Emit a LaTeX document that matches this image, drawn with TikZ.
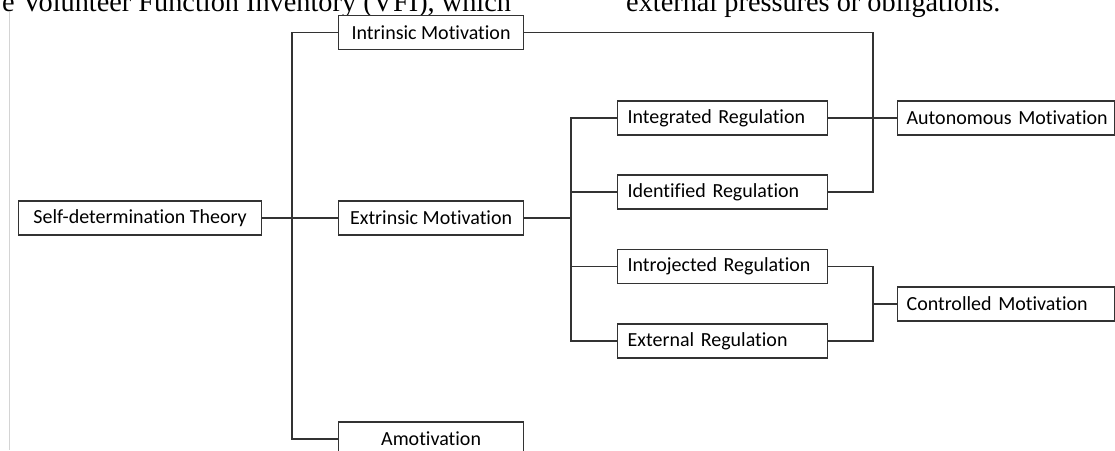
\documentclass[tikz,border=0pt]{standalone}
\usepackage{fontspec}
\setmainfont{Carlito}[Ligatures=NoCommon]
\newfontfamily\docfont{Liberation Serif}
\definecolor{linegray}{HTML}{333333}
\definecolor{margingray}{HTML}{D4D4D4}
\tikzset{
	box/.style = {
		draw=linegray,
		fill=white,
		line width=1.2pt,
		inner sep=0pt,
		minimum height=34pt,
		anchor=west,
		font=\fontsize{20}{24}\selectfont,
		text=black
	},
	box_c/.style = {
		box,
		align=center,
		minimum width=#1
	},
	box_l/.style = {
		box,
		align=left,
		inner xsep=10pt,
		text width=#1
	},
	link/.style = {
		draw=linegray,
		line width=1.2pt
	},
	page_text/.style = {
		anchor=base west,
		inner sep=0pt,
		font=\docfont\fontsize{28.3}{32}\selectfont
	},
}

\begin{document}
\begin{tikzpicture}[x=1pt,y=-1pt]
\clip (0,0) rectangle (1115,450);
\node [page_text] (txt_left) at (2,11) {e Volunteer Function Inventory (VFI), which};
\node [page_text] (txt_right) at (626,11) {external pressures or obligations.};
\draw [margingray, line width=1pt] (9.5,12) -- (9.5,450);
\node [box_c=243pt] (sdt) at (18,218) {Self-determination Theory};
\node [box_c=185pt] (intr) at (338,32.5) {Intrinsic Motivation};
\node [box_c=185pt] (extr) at (338,218) {Extrinsic Motivation};
\node [box_c=185pt] (amot) at (338,439) {Amotivation};
\node [box_l=190pt] (integ) at (617,118) {Integrated Regulation};
\node [box_l=190pt] (ident) at (617,192) {Identified Regulation};
\node [box_l=190pt] (intro) at (617,266.5) {Introjected Regulation};
\node [box_l=190pt] (exter) at (617,341) {External Regulation};
\node [box_l=199pt, inner xsep=9pt] (auton) at (897,118) {\mbox{Autonomous Motivation}};
\node [box_l=199pt, inner xsep=9pt] (contr) at (897,304) {\mbox{Controlled Motivation}};
\coordinate (fork_sdt) at (292,218);
\coordinate (fork_ext) at (571,218);
\coordinate (join_aut) at (873,118);
\coordinate (join_ctl) at (873,304);
\draw [link] (sdt.east) -- (extr.west);
\draw [link] (intr.west) -| (fork_sdt) |- (amot.west);
\draw [link] (extr.east) -- (fork_ext);
\draw [link] (integ.west) -| (fork_ext) |- (exter.west);
\draw [link] (ident.west) -- (ident.west -| fork_ext);
\draw [link] (intro.west) -- (intro.west -| fork_ext);
\draw [link] (intr.east) -| (join_aut) |- (ident.east);
\draw [link] (integ.east) -- (auton.west);
\draw [link] (intro.east) -| (join_ctl) |- (exter.east);
\draw [link] (join_ctl) -- (contr.west);
\end{tikzpicture}
\end{document}
